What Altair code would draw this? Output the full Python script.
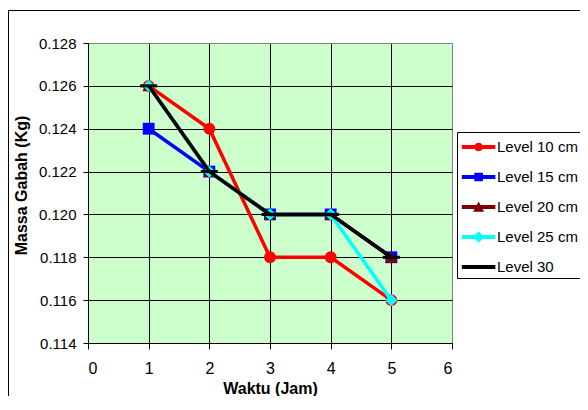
import altair as alt
import pandas as pd

# ---- data ----
hours = [1, 2, 3, 4, 5]
series_names = ["Level 10 cm", "Level 15 cm", "Level 20 cm", "Level 25 cm", "Level 30"]
level_10 = [0.126, 0.124, 0.118, 0.118, 0.116]
level_15 = [0.124, 0.122, 0.120, 0.120, 0.118]
level_20 = [0.126, 0.122, 0.120, 0.120, 0.118]
level_25 = [0.126, 0.122, 0.120, 0.120, 0.116]
level_30 = [0.126, 0.122, 0.120, 0.120, 0.118]
x_ticks = [0, 1, 2, 3, 4, 5, 6]
y_ticks = [0.114, 0.116, 0.118, 0.120, 0.122, 0.124, 0.126, 0.128]

# ---- styles ----
series_colors = ["#ff0000", "#0000ff", "#800000", "#00ffff", "#000000"]
plot_shapes = ["circle", "square", "triangle-up", "diamond", "M-1,-0.18H1V0.18H-1Z"]
plot_sizes = [140, 140, 160, 150, 289]
FONT = "Liberation Sans"

rows = []
for name, vals in zip(series_names, [level_10, level_15, level_20, level_25, level_30]):
    for h, v in zip(hours, vals):
        rows.append({"Waktu": h, "Massa": v, "Seri": name})
df = pd.DataFrame(rows)

# legend symbols: line segment + marker, custom paths (unit = 12 px)
line_part = "M-0.85,-0.16H1.95V0.16H-0.85Z"
cx = 0.55
r = 0.36
circle = f"M{cx-r:.3f},0A{r},{r},0,1,1,{cx+r:.3f},0A{r},{r},0,1,1,{cx-r:.3f},0Z"
square = f"M{cx-r:.3f},{-r}H{cx+r:.3f}V{r}H{cx-r:.3f}Z"
tri = f"M{cx},-0.45L{cx+0.46:.3f},0.4L{cx-0.46:.3f},0.4Z"
diamond = f"M{cx},-0.47L{cx+0.47:.3f},0L{cx},0.47L{cx-0.47:.3f},0Z"
legend_paths = [line_part + circle, line_part + square, line_part + tri, line_part + diamond, line_part]

color_scale = alt.Scale(domain=series_names, range=series_colors)

x_axis = alt.Axis(
    values=x_ticks, format="d", title="Waktu (Jam)",
    grid=True,
    gridColor={"condition": {"test": "datum.value === 6", "value": "#808080"}, "value": "black"},
    gridWidth=1, domainColor="black", tickColor="black", tickSize=6,
    labelFont=FONT, labelFontSize=16, labelColor="black", labelPadding=24,
    labelBaseline="alphabetic",
    titleFont=FONT, titleFontSize=16, titleFontWeight="bold", titleColor="black",
    titleX=182, titleY=50, titleBaseline="alphabetic",
)
y_axis = alt.Axis(
    values=y_ticks, format=".3f", title="Massa Gabah (Kg)",
    grid=True,
    gridColor={"condition": {"test": "datum.value > 0.1279", "value": "#808080"}, "value": "black"},
    gridWidth=1, domainColor="black", tickColor="black", tickSize=5,
    labelFont=FONT, labelFontSize=15, labelColor="black", labelPadding=7,
    titleFont=FONT, titleFontSize=16, titleFontWeight="bold", titleColor="black",
    titleX=-62, titleY=142, titleBaseline="alphabetic", titleAlign="center", titleAngle=-90,
)

X = alt.X("Waktu:Q", scale=alt.Scale(domain=[0, 6], nice=False, zero=False), axis=x_axis)
Y = alt.Y("Massa:Q", scale=alt.Scale(domain=[0.114, 0.128], nice=False, zero=False), axis=y_axis)

legend = alt.Legend(
    orient="none", legendX=369, legendY=89, title=None, padding=3,
    strokeColor="black", fillColor="white", symbolSize=576, rowPadding=10,
    labelOffset=13, labelFont=FONT, labelFontSize=15, labelColor="black", labelLimit=300,
    symbolOpacity=1, symbolStrokeWidth=0,
)

base = alt.Chart(df)
layers = []
frame = alt.Chart(pd.DataFrame({"f": [0]})).mark_rect(
    fill="transparent", stroke="black", strokeWidth=1, clip=False
).encode(x=alt.value(-79.5), x2=alt.value(700), y=alt.value(-32.5), y2=alt.value(600))
layers.append(frame)

# invisible layer that only carries the legend (colour + line/marker shape)
legend_layer = base.mark_point(filled=True, opacity=0, size=576).encode(
    x=X, y=Y,
    color=alt.Color("Seri:N", scale=color_scale, legend=legend),
    shape=alt.Shape("Seri:N", scale=alt.Scale(domain=series_names, range=legend_paths), legend=legend),
)
layers.append(legend_layer)

for i, name in enumerate(series_names):
    sub = base.transform_filter(alt.datum.Seri == name)
    line = sub.mark_line(strokeWidth=3.5).encode(
        x=X, y=Y,
        color=alt.Color("Seri:N", scale=color_scale, legend=None),
    )
    pts = sub.mark_point(filled=True, opacity=1, size=plot_sizes[i], shape=plot_shapes[i]).encode(
        x=X, y=Y,
        color=alt.Color("Seri:N", scale=color_scale, legend=None),
    )
    layers.append(line)
    layers.append(pts)

chart = alt.layer(*layers).properties(
    width=364, height=300,
    autosize=alt.AutoSizeParams(type="none"),
    padding={"left": 80, "top": 35, "right": 128, "bottom": 53},
    background="white",
).configure_view(
    fill="#ccffcc", stroke="#808080", strokeWidth=1
)

chart.save("out.html", embed_options={"renderer": "svg", "actions": False})
